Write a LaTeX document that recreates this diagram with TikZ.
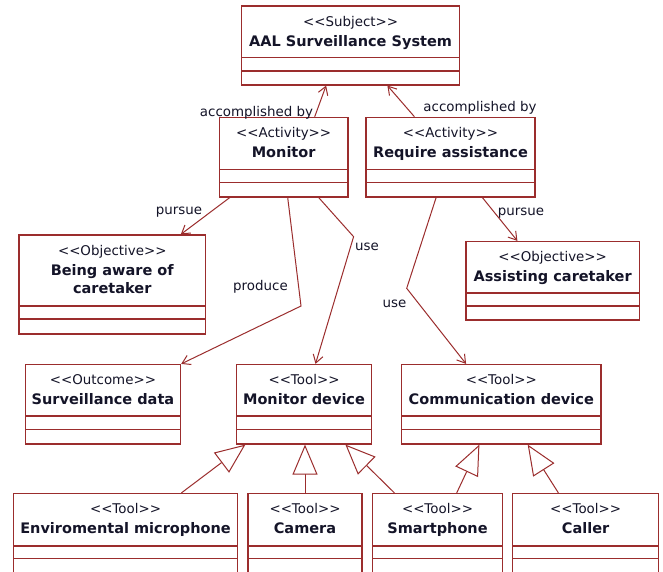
\documentclass[tikz,border=0pt]{standalone}
\usepackage{fontspec}
\setmainfont{DejaVu Sans}
\usetikzlibrary{arrows.meta,calc,fit}
\definecolor{umlred}{RGB}{155,45,45}
\definecolor{umltext}{RGB}{20,20,40}
\tikzset{
  classbox/.style={draw=umlred, line width=1.2pt, inner sep=0pt, fill=white},
  divider/.style={draw=umlred, line width=1.2pt},
  stereo/.style={anchor=base, inner sep=0pt, text=umltext, font=\fontsize{13.4}{16}\selectfont},
  ctitle/.style={anchor=base, inner sep=0pt, text=umltext, font=\fontsize{14.5}{17}\selectfont\bfseries},
  elabel/.style={inner sep=0pt, text=umltext, font=\fontsize{13.4}{16}\selectfont},
  assoc/.style={draw=umlred, line width=1pt, -{Straight Barb[length=8pt,width=10pt,line width=1pt]}},
  general/.style={draw=umlred, line width=1pt, -{Triangle[open,length=30pt,width=25pt,line width=1pt,fill=white]}}
}
\newcommand\umlclass[9]{%
  \coordinate (#1-a) at (#2,#3);
  \coordinate (#1-b) at (#4,#5);
  \node[classbox, fit=(#1-a)(#1-b)] (#1) {};
  \draw[divider] (#2,#6) -- (#4,#6) (#2,#7) -- (#4,#7);
  \node[stereo] (#1-st) at ($(#1.north)+(0,21)$) {<\kern0pt<#8>\kern0pt>};
  \node[ctitle] (#1-ti) at ($(#1.north)+(0,41)$) {#9};
}
\begin{document}
\begin{tikzpicture}[x=1pt,y=-1pt]
\useasboundingbox (0,0) rectangle (663,572);
\clip (0,0) rectangle (663,572);
\fill[white] (0,0) rectangle (663,572);

\umlclass{subj}{241.7}{6}{459.5}{85}{57.7}{71}{Subject}{AAL Surveillance System}
\umlclass{mon}{219.3}{117.3}{348}{197}{169.3}{182.7}{Activity}{Monitor}
\umlclass{req}{366}{117.3}{535}{197}{169.3}{182.7}{Activity}{Require assistance}
\umlclass{being}{19}{235}{205.5}{334}{306}{319}{Objective}{Being aware of}
\node[ctitle] (being-ti2) at ($(being.north)+(0,59)$) {caretaker};
\umlclass{assist}{466}{241.5}{639.3}{320}{293}{306}{Objective}{Assisting caretaker}
\umlclass{surv}{25.3}{364.5}{180.6}{444}{416}{429.5}{Outcome}{Surveillance data}
\umlclass{mondev}{236.5}{364.5}{371.5}{444}{416}{429.5}{Tool}{Monitor device}
\umlclass{comm}{401.5}{364.5}{601}{444}{416}{429.5}{Tool}{Communication device}
\umlclass{env}{13.5}{493.5}{237.5}{590}{546}{558.5}{Tool}{Enviromental microphone}
\umlclass{cam}{248}{493.5}{362}{590}{546}{558.5}{Tool}{Camera}
\umlclass{smart}{372.3}{493.5}{502.7}{590}{546}{558.5}{Tool}{Smartphone}
\umlclass{caller}{512.7}{493.5}{658.5}{590}{546}{558.5}{Tool}{Caller}

% accomplished by
\draw[assoc] ($(mon.north west)+(96,0)$) -- ($(subj.south west)+(85,0)$);
\draw[assoc] ($(req.north west)+(49,0)$) -- ($(subj.south west)+(146.3,0)$);
\node[elabel] (lab1) at (256.5,113) {accomplished by};
\node[elabel] (lab2) at (480,107.5) {accomplished by};

% pursue
\draw[assoc] ($(mon.south west)+(11,0)$) -- ($(being.north west)+(162.4,0)$);
\node[elabel] (lab3) at (179,212) {pursue};
\draw[assoc] ($(req.south west)+(117,0)$) -- ($(assist.north west)+(52,0)$);
\node[elabel] (lab4) at (521,213) {pursue};

% produce
\coordinate (bp) at (301,306);
\draw[assoc] ($(mon.south west)+(69,0)$) -- (bp) -- (surv.north east);
\node[elabel] (lab5) at (260.5,287) {produce};

% use (monitor)
\coordinate (bu1) at (353.6,236.7);
\draw[assoc] ($(mon.south west)+(100,0)$) -- (bu1) -- ($(mondev.north west)+(79.6,0)$);
\node[elabel] (lab6) at (367,246.7) {use};

% use (require)
\coordinate (bu2) at (406.7,288.3);
\draw[assoc] ($(req.south west)+(70.7,0)$) -- (bu2) -- ($(comm.north west)+(65.2,0)$);
\node[elabel] (lab7) at (394.5,304) {use};

% generalizations
\draw[general] ($(env.north west)+(168.5,0)$) -- ($(mondev.south west)+(9.5,0)$);
\draw[general] (cam.north) -- (cam.north |- mondev.south);
\draw[general] ($(smart.north west)+(22.7,0)$) -- ($(mondev.south west)+(109.5,0)$);
\draw[general] ($(smart.north west)+(85,0)$) -- ($(comm.south west)+(78.5,0)$);
\draw[general] ($(caller.north west)+(46.3,0)$) -- ($(comm.south west)+(126.8,0)$);
\end{tikzpicture}
\end{document}
